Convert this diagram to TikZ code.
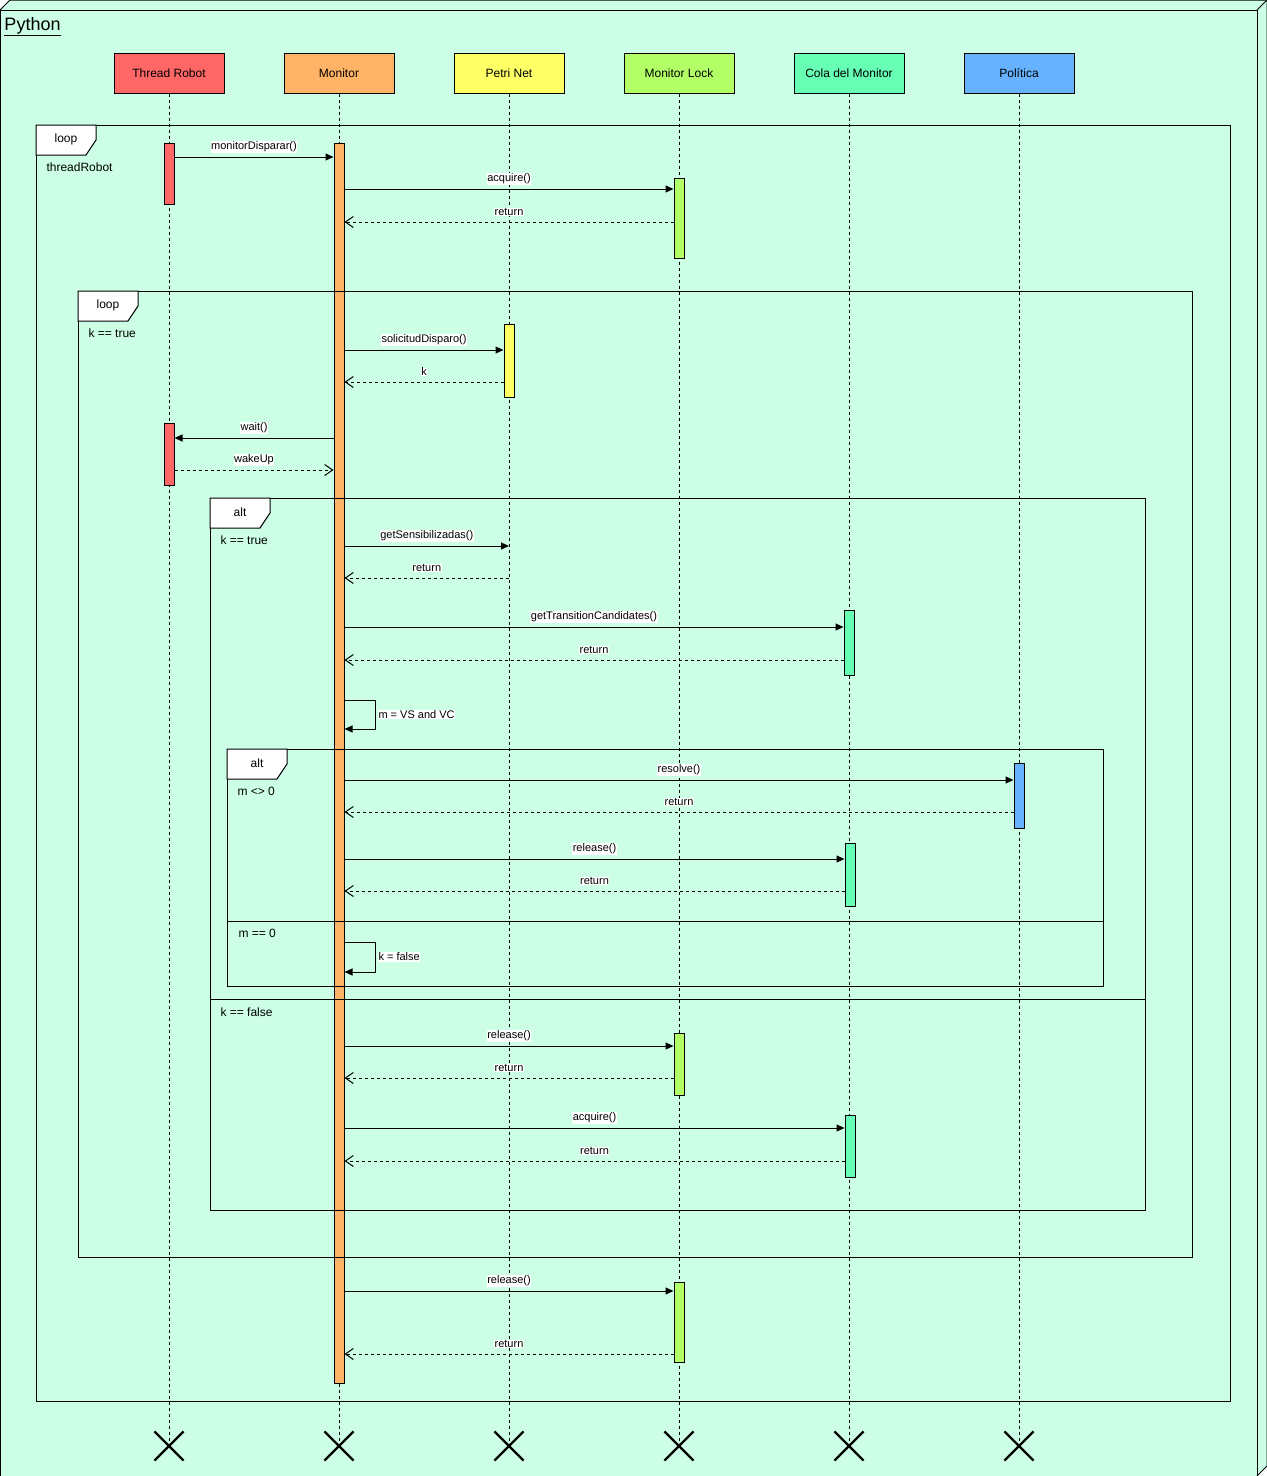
\documentclass[tikz,border=0pt]{standalone}
\usepackage{fontspec}
\setmainfont{Liberation Sans}
\usetikzlibrary{arrows.meta,shapes.misc}

\tikzset{
  header/.style={draw, minimum width=110pt, minimum height=40pt, inner sep=0pt, text depth=0pt, font=\fontsize{12}{14}\selectfont},
  actbar/.style={draw, minimum width=10pt, inner sep=0pt},
  lifeline/.style={dash pattern=on 3pt off 3pt},
  msg/.style={-{Triangle[length=8pt,width=7pt]}},
  ret/.style={dash pattern=on 3pt off 3pt, -{Straight Barb[length=8pt,width=11pt]}},
  msglabel/.style={fill=white, inner sep=0.5pt, font=\fontsize{11}{13}\selectfont, yshift=10pt},
  selflabel/.style={fill=white, inner sep=0.5pt, font=\fontsize{11}{13}\selectfont, right, xshift=2pt},
  guard/.style={anchor=west, inner sep=0pt, font=\fontsize{12}{14}\selectfont},
  endmark/.style={cross out, draw, line width=2.2pt, minimum size=27pt, inner sep=0pt},
}

\begin{document}
\begin{tikzpicture}[x=1pt, y=-1pt, line width=1pt]
    \definecolor{colBg}{HTML}{CCFFE6}
    \definecolor{colTR}{HTML}{FF6666}
    \definecolor{colMon}{HTML}{FFB366}
    \definecolor{colPN}{HTML}{FFFF66}
    \definecolor{colLock}{HTML}{B3FF66}
    \definecolor{colCola}{HTML}{66FFB3}
    \definecolor{colPol}{HTML}{66B2FF}

    \useasboundingbox (0,0) rectangle (1267,1476);

    % Outer frame (3D box)
    \fill[colBg] (0,10) -- (10,0) -- (1267,0) -- (1267,1466) -- (1257,1476) -- (0,1476) -- cycle;
    \draw (0,10) -- (10,0) -- (1267,0) -- (1267,1466) -- (1257,1476);
    \draw (0,1476) -- (0,10) -- (1257,10) -- (1257,1476) -- cycle;
    \draw (1257,10) -- (1267,0);
    \node[anchor=base west, inner sep=0pt, font=\fontsize{18}{20}\selectfont] (title) at (4,30) {\underline{Python}};

    % Participants, lifelines and end marks
    \foreach \n/\lbl/\c/\x in {tr/Thread Robot/colTR/169, mon/Monitor/colMon/339,
                               pn/Petri Net/colPN/509, lock/Monitor Lock/colLock/679,
                               cola/Cola del Monitor/colCola/849, pol/Política/colPol/1019}
    {
        \node[header, fill=\c] (hdr-\n) at (\x,73) {\lbl};
        \node[endmark] (end-\n) at (\x,1446) {};
        \draw[lifeline] (hdr-\n.south) -- (end-\n.center);
    }

    % Activation bars
    \foreach \n/\x/\t/\b/\c in {tr1/169/143/204/colTR, mon1/339/143/1383/colMon,
                                lock1/679/178/258/colLock, pn1/509/324/397/colPN,
                                tr2/169/423/485/colTR, cola1/849/610/675/colCola,
                                pol1/1019/763/828/colPol, cola2/850/843/906/colCola,
                                lock2/679/1033/1095/colLock, cola3/850/1115/1177/colCola,
                                lock3/679/1282/1362/colLock}
        \node[actbar, fill=\c, minimum height={(\b-\t)*1pt}] (\n) at (\x,{(\t+\b)/2}) {};

    % Frames
    \foreach \x/\y/\X/\Y/\kind/\grd in {36/125/1230/1401/loop/threadRobot,
                                        78/291/1192/1257/loop/k == true,
                                        210/498/1145/1210/alt/k == true,
                                        227/749/1103/986/alt/m <> 0}
    {
        \draw (\x,\y) rectangle (\X,\Y);
        \draw[fill=white] (\x,\y) -- ++(60,0) -- ++(0,15) -- ++(-10,15) -- ++(-50,0) -- cycle;
        \node[font=\fontsize{12}{14}\selectfont, inner sep=0pt] at (\x+30,\y+14) {\kind};
        \node[guard] at (\x+10,\y+42) {\grd};
    }
    \draw (210,999) -- (1145,999);
    \node[guard] (grd-kfalse) at (220,1012) {k == false};
    \draw (227,921) -- (1103,921);
    \node[guard] (grd-mzero) at (238,933) {m == 0};

    % Messages
    \draw[msg] (tr1.east |- 0,157) -- node[msglabel] {monitorDisparar()} (mon1.west |- 0,157);
    \draw[msg] (mon1.east |- 0,189) -- node[msglabel] {acquire()} (lock1.west |- 0,189);
    \draw[ret] (lock1.west |- 0,222) -- node[msglabel] {return} (mon1.east |- 0,222);
    \draw[msg] (mon1.east |- 0,350) -- node[msglabel] {solicitudDisparo()} (pn1.west |- 0,350);
    \draw[ret] (pn1.west |- 0,382) -- node[msglabel] {k} (mon1.east |- 0,382);
    \draw[msg] (mon1.west |- 0,438) -- node[msglabel] {wait()} (tr2.east |- 0,438);
    \draw[ret] (tr2.east |- 0,470) -- node[msglabel] {wakeUp} (mon1.west |- 0,470);
    \draw[msg] (mon1.east |- 0,546) -- node[msglabel] {getSensibilizadas()} (hdr-pn.south |- 0,546);
    \draw[ret] (hdr-pn.south |- 0,578) -- node[msglabel] {return} (mon1.east |- 0,578);
    \draw[msg] (mon1.east |- 0,627) -- node[msglabel] {getTransitionCandidates()} (cola1.west |- 0,627);
    \draw[ret] (cola1.west |- 0,660) -- node[msglabel] {return} (mon1.east |- 0,660);
    \draw[msg] (mon1.east |- 0,700) -- ++(31,0) -- node[selflabel] {m = VS and VC} ++(0,29) -- (mon1.east |- 0,729);
    \draw[msg] (mon1.east |- 0,780) -- node[msglabel] {resolve()} (pol1.west |- 0,780);
    \draw[ret] (pol1.west |- 0,812) -- node[msglabel] {return} (mon1.east |- 0,812);
    \draw[msg] (mon1.east |- 0,859) -- node[msglabel] {release()} (cola2.west |- 0,859);
    \draw[ret] (cola2.west |- 0,891) -- node[msglabel] {return} (mon1.east |- 0,891);
    \draw[msg] (mon1.east |- 0,942) -- ++(31,0) -- node[selflabel] {k = false} ++(0,30) -- (mon1.east |- 0,972);
    \draw[msg] (mon1.east |- 0,1046) -- node[msglabel] {release()} (lock2.west |- 0,1046);
    \draw[ret] (lock2.west |- 0,1078) -- node[msglabel] {return} (mon1.east |- 0,1078);
    \draw[msg] (mon1.east |- 0,1128) -- node[msglabel] {acquire()} (cola3.west |- 0,1128);
    \draw[ret] (cola3.west |- 0,1161) -- node[msglabel] {return} (mon1.east |- 0,1161);
    \draw[msg] (mon1.east |- 0,1291) -- node[msglabel] {release()} (lock3.west |- 0,1291);
    \draw[ret] (lock3.west |- 0,1354) -- node[msglabel] {return} (mon1.east |- 0,1354);

\end{tikzpicture}
\end{document}
